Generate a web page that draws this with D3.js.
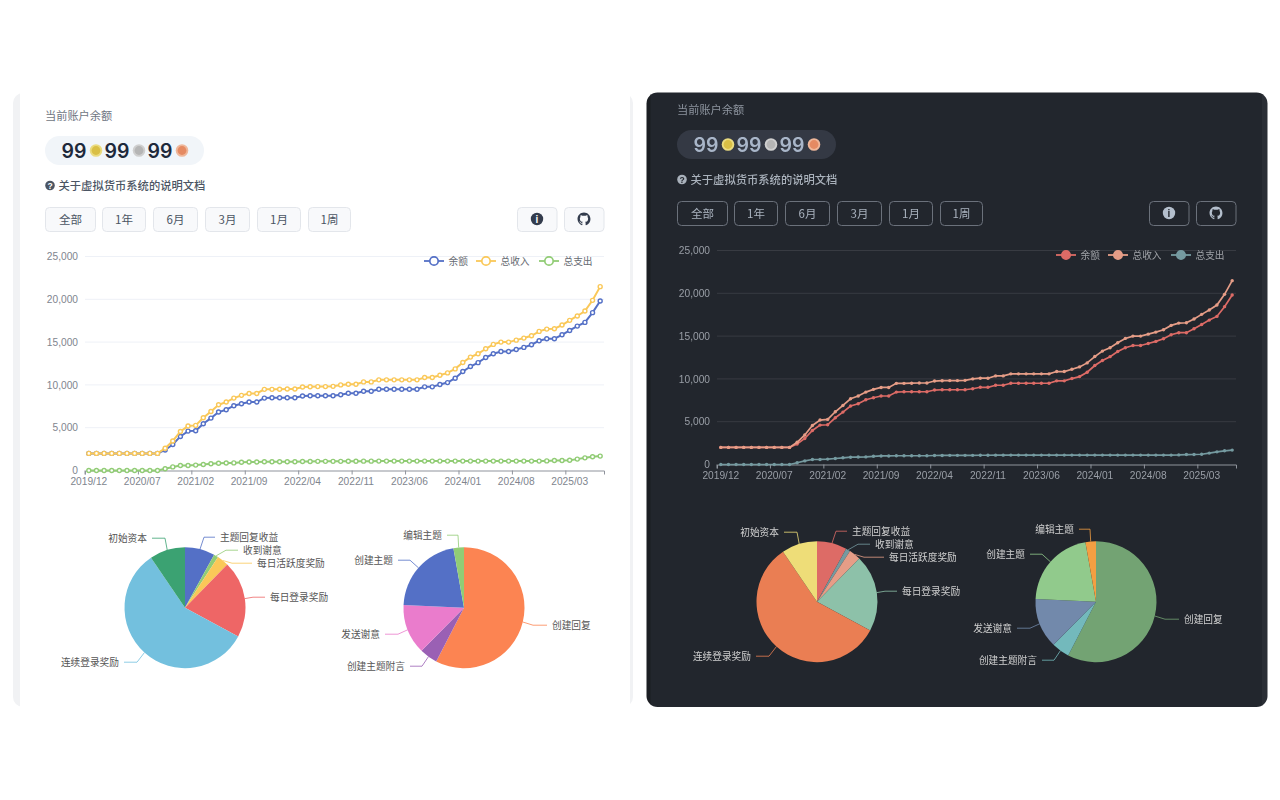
<!DOCTYPE html>
<html lang="zh">
<head>
<meta charset="utf-8">
<title>虚拟货币</title>
<script src="https://cdn.jsdelivr.net/npm/d3@7"></script>
<style>
html, body { margin: 0; padding: 0; background: #fff; }
/* the reference is a slightly soft screenshot */
svg { display: block; filter: blur(0.35px); }
text { font-family: "Noto Sans CJK SC", "Noto Sans", sans-serif; }
.num { font-family: "Liberation Sans", Arial, sans-serif; }
.amount { font-family: Inter, "Liberation Sans", sans-serif; }
</style>
</head>
<body>
<svg id="chart" width="1280" height="800"></svg>
<script>
const months = [
	"2019/12","2020/01","2020/02","2020/03","2020/04","2020/05","2020/06","2020/07","2020/08","2020/09",
	"2020/10","2020/11","2020/12","2021/01","2021/02","2021/03","2021/04","2021/05","2021/06","2021/07",
	"2021/08","2021/09","2021/10","2021/11","2021/12","2022/01","2022/02","2022/03","2022/04","2022/05",
	"2022/06","2022/07","2022/08","2022/09","2022/10","2022/11","2022/12","2023/01","2023/02","2023/03",
	"2023/04","2023/05","2023/06","2023/07","2023/08","2023/09","2023/10","2023/11","2023/12","2024/01",
	"2024/02","2024/03","2024/04","2024/05","2024/06","2024/07","2024/08","2024/09","2024/10","2024/11",
	"2024/12","2025/01","2025/02","2025/03","2025/04","2025/05","2025/06","2025/07"
];
const balance = [
	2000,2000,2000,2000,2000,2000,2000,2000,2000,2000,
	2400,3040,3980,4600,4640,5460,6120,6830,7100,7570,
	7800,8000,8000,8460,8500,8500,8500,8500,8700,8730,
	8730,8730,8730,8850,9020,9020,9260,9260,9490,9490,
	9490,9490,9490,9490,9770,9770,10040,10270,10780,11560,
	12150,12600,13200,13640,13900,13900,14140,14380,14690,15160,
	15400,15400,15850,16360,16870,17300,18440,19800
];
const income = [
	2000,2000,2000,2000,2000,2000,2000,2000,2000,2000,
	2600,3450,4560,5190,5270,6160,6900,7680,8000,8460,
	8780,9000,9000,9480,9480,9500,9520,9520,9750,9790,
	9800,9800,9830,10000,10080,10080,10350,10350,10590,10590,
	10590,10590,10590,10590,10860,10860,11130,11400,11870,12610,
	13250,13640,14220,14730,15000,15000,15230,15470,15740,16250,
	16520,16560,16990,17540,18050,18630,19880,21480
];
const expense = [
	0,0,0,0,0,0,0,0,0,0,
	200,420,585,590,630,700,780,850,870,890,
	960,1000,1000,1020,1020,1020,1020,1020,1050,1060,
	1070,1070,1070,1070,1080,1080,1090,1090,1100,1100,
	1100,1100,1100,1100,1100,1100,1100,1100,1100,1100,
	1100,1100,1100,1100,1100,1100,1100,1100,1100,1100,
	1120,1160,1170,1200,1330,1480,1600,1680
];
const seriesNames = ["余额", "总收入", "总支出"];
const yTicks = [0, 5000, 10000, 15000, 20000, 25000];

const incomeNames = ["主题回复收益", "收到谢意", "每日活跃度奖励", "每日登录奖励", "连续登录奖励", "初始资本"];
const incomeShares = [8.0, 1.2, 3.1, 20.6, 57.6, 9.5];
const spendNames = ["创建回复", "创建主题附言", "发送谢意", "创建主题", "编辑主题"];
const spendShares = [57.6, 4.8, 13.3, 21.5, 2.8];

const rangeLabels = ["全部", "1年", "6月", "3月", "1月", "1周"];
const rangeEdges = [[45, 96], [102, 146], [153, 198], [205, 250], [257, 301], [308, 351]];

// elbow of each pie label line, relative to the pie centre, and the length of its flat part
const incomeElbows = [[19, -71, 11], [41, -58, 12], [47, -45, 20], [68, -11, 12], [-48, 54, 13], [-20, -70, 13]];
const spendElbows = [[69, 17, 14], [-42, 58, 12], [-66, 26, 13], [-54, -48, 12], [-6, -73, 11]];

const lightTheme = {
	title: "#6f7682", doc: "#4b5563", pill: "#f1f5f9", amount: "#1e293b",
	btnFill: "#f8f9fb", btnLine: "#e3e6eb", btnText: "#4b5563", icon: "#333c4d",
	grid: "#eef1f7", axis: "#8f939c", axisText: "#80858e", legendText: "#666a72", pieText: "#555",
	lines: ["#5470c6", "#fac858", "#91cc75"], dot: "#fff", dotR: 2, dotW: 1.4, lineW: 2,
	legendDot: "#fff",
	incomeColors: ["#5470c6", "#91cc75", "#fac858", "#ee6666", "#73c0de", "#3ba272"],
	spendColors: ["#fc8452", "#9a60b4", "#ea7ccc", "#5470c6", "#91cc75"]
};
const darkTheme = {
	title: "#8d949e", doc: "#a9b1bb", pill: "#343944", amount: "#a9b6c9",
	btnFill: "none", btnLine: "#6b717b", btnText: "#aab3bf", icon: "#b4bfcd",
	grid: "#383b42", axis: "#8f949c", axisText: "#9a9fa7", legendText: "#a0a3a8", pieText: "#d0d0d0",
	lines: ["#dd6b66", "#e69d87", "#759aa0"], dot: null, dotR: 1.7, dotW: 0, lineW: 1.7,
	legendDot: null,
	incomeColors: ["#dd6b66", "#759aa0", "#e69d87", "#8dc1a9", "#ea7e53", "#eedd78"],
	spendColors: ["#73a373", "#73b9bc", "#7289ab", "#91ca8c", "#f49f42"]
};

const githubPath = "M8 0C3.58 0 0 3.58 0 8c0 3.54 2.29 6.53 5.47 7.59.4.07.55-.17.55-.38 0-.19-.01-.82-.01-1.49-2.01.37-2.53-.49-2.69-.94-.09-.23-.48-.94-.82-1.13-.28-.15-.68-.52-.01-.53.63-.01 1.08.58 1.23.82.72 1.21 1.87.87 2.33.66.07-.52.28-.87.51-1.07-1.78-.2-3.64-.89-3.64-3.95 0-.87.31-1.59.82-2.15-.08-.2-.36-1.02.08-2.12 0 0 .67-.21 2.2.82.64-.18 1.32-.27 2-.27s1.36.09 2 .27c1.53-1.04 2.2-.82 2.2-.82.44 1.1.16 1.92.08 2.12.51.56.82 1.27.82 2.15 0 3.07-1.87 3.75-3.65 3.95.29.25.54.73.54 1.48 0 1.07-.01 1.93-.01 2.2 0 .21.15.46.55.38A8.01 8.01 0 0 0 16 8c0-4.42-3.58-8-8-8z";

const svg = d3.select("#chart");

// card backgrounds
svg.append("clipPath").attr("id", "darkCard").append("rect")
	.attr("x", 646.5).attr("y", 92.5).attr("width", 621).attr("height", 614.5).attr("rx", 11);
const frame = svg.append("g");
frame.append("rect").attr("x", 13).attr("y", 93).attr("width", 620).attr("height", 614).attr("rx", 10).attr("fill", "#f1f2f4");
frame.append("rect").attr("x", 20).attr("y", 90).attr("width", 610).attr("height", 620).attr("fill", "#fff");
const dark = frame.append("g").attr("clip-path", "url(#darkCard)");
dark.append("rect").attr("x", 646).attr("y", 92).attr("width", 5).attr("height", 616).attr("fill", "#1b1e23");
dark.append("rect").attr("x", 650.5).attr("y", 92).attr("width", 612).attr("height", 616).attr("fill", "#22262d");
dark.append("rect").attr("x", 1262).attr("y", 92).attr("width", 6).attr("height", 616).attr("fill", "#2a2e35");

const x = d3.scaleBand().domain(months).range([85, 604]);
const y = d3.scaleLinear().domain([0, 25000]).range([470.5, 256.5]);

function drawHeader(g, t) {
	g.append("text").attr("x", 45).attr("y", 119.5).attr("font-size", 11.2).attr("fill", t.title).text("当前账户余额");

	g.append("rect").attr("x", 45).attr("y", 136).attr("width", 159).attr("height", 29).attr("rx", 14.5).attr("fill", t.pill);
	const coins = [["#d9bf45", "#eadb7f"], ["#b5b5b5", "#cfcfcf"], ["#e58a62", "#efb79a"]];
	coins.forEach((c, i) => {
		g.append("text").attr("class", "amount").attr("x", 61.5 + i * 43).attr("y", 158).attr("font-size", 19.5)
			.attr("font-weight", 600).attr("fill", t.amount).text("99");
		g.append("circle").attr("cx", 96 + i * 43).attr("cy", 150.5).attr("r", 6.3).attr("fill", c[1]);
		g.append("circle").attr("cx", 96 + i * 43).attr("cy", 150.5).attr("r", 4.4).attr("fill", c[0]);
	});

	g.append("circle").attr("cx", 50).attr("cy", 185.5).attr("r", 4.8).attr("fill", t.doc);
	g.append("text").attr("class", "num").attr("x", 50).attr("y", 188.7).attr("text-anchor", "middle").attr("font-size", 8.5)
		.attr("font-weight", 700).attr("fill", t.dot || "#22262d").text("?");
	g.append("text").attr("x", 58.5).attr("y", 189.7).attr("font-size", 11.3).attr("font-weight", 500).attr("fill", t.doc).text("关于虚拟货币系统的说明文档");

	const btn = g.append("g").selectAll("g").data(rangeLabels).join("g");
	btn.append("rect").attr("x", (d, i) => rangeEdges[i][0] + 0.5).attr("y", 207.5)
		.attr("width", (d, i) => rangeEdges[i][1] - rangeEdges[i][0] - 1).attr("height", 24).attr("rx", 4)
		.attr("fill", t.btnFill).attr("stroke", t.btnLine);
	btn.append("text").attr("x", (d, i) => (rangeEdges[i][0] + rangeEdges[i][1]) / 2).attr("y", 223.5)
		.attr("text-anchor", "middle").attr("font-size", 11.5).attr("fill", t.btnText).text(d => d);

	[517, 564].forEach((bx, i) => {
		g.append("rect").attr("x", bx + 0.5).attr("y", 207.5).attr("width", 39.5).attr("height", 24).attr("rx", 4)
			.attr("fill", t.btnFill).attr("stroke", t.btnLine);
		if (i === 0) {
			g.append("circle").attr("cx", bx + 20).attr("cy", 219).attr("r", 6.2).attr("fill", t.icon);
			g.append("text").attr("class", "num").attr("x", bx + 20).attr("y", 222.8).attr("text-anchor", "middle")
				.attr("font-size", 10).attr("font-weight", 700).attr("fill", t.dot || "#22262d").text("i");
		} else {
			g.append("path").attr("d", githubPath).attr("transform", `translate(${bx + 13.5},${212.5}) scale(0.81)`).attr("fill", t.icon);
		}
	});
}

function drawLines(g, t) {
	g.append("g").selectAll("line").data(yTicks.slice(1)).join("line")
		.attr("x1", x.range()[0]).attr("x2", x.range()[1]).attr("y1", d => y(d)).attr("y2", d => y(d))
		.attr("stroke", t.grid);

	const ax = g.append("g").attr("transform", `translate(0,${y(0)})`)
		.call(d3.axisBottom(x).tickValues(months.filter((d, i) => i % 7 === 0)).tickSizeOuter(0).tickSize(4).tickPadding(3));
	ax.select(".domain").attr("stroke", t.axis);
	ax.selectAll("line").attr("stroke", t.axis).attr("x1", -x.bandwidth() / 2).attr("x2", -x.bandwidth() / 2);
	ax.selectAll("text").attr("class", "num").attr("font-size", 10.2).attr("fill", t.axisText).attr("font-family", null);

	const ay = g.append("g").attr("transform", `translate(${x.range()[0]},0)`)
		.call(d3.axisLeft(y).tickValues(yTicks).tickFormat(d3.format(",")).tickSize(0).tickPadding(7));
	ay.select(".domain").remove();
	ay.selectAll("text").attr("class", "num").attr("font-size", 10.2).attr("fill", t.axisText).attr("font-family", null);

	const line = d3.line().x((d, i) => x(months[i]) + x.bandwidth() / 2).y(d => y(d));
	// drawn so that the later series sit on top, same as the picture
	[balance, income, expense].forEach((values, s) => {
		const color = t.lines[s];
		g.append("path").attr("d", line(values)).attr("fill", "none").attr("stroke", color).attr("stroke-width", t.lineW);
		g.append("g").selectAll("circle").data(values).join("circle")
			.attr("cx", (d, i) => x(months[i]) + x.bandwidth() / 2).attr("cy", d => y(d)).attr("r", t.dotR)
			.attr("fill", t.dot || color).attr("stroke", color).attr("stroke-width", t.dotW);
	});

	const legendStart = [424, 476, 539];
	seriesNames.forEach((name, i) => {
		const lx = legendStart[i], ly = 261, color = t.lines[i];
		g.append("line").attr("x1", lx).attr("x2", lx + 20).attr("y1", ly).attr("y2", ly).attr("stroke", color).attr("stroke-width", 1.8);
		g.append("circle").attr("cx", lx + 10).attr("cy", ly).attr("r", 4.2).attr("fill", t.legendDot || color).attr("stroke", color).attr("stroke-width", 1.7);
		g.append("text").attr("x", lx + 24.5).attr("y", ly + 4.2).attr("font-size", 9.7).attr("fill", t.legendText).text(name);
	});
}

function drawPie(g, t, cx, names, shares, colors, elbows) {
	const radius = 60.5, cy = 607.7;
	const pie = d3.pie().sort(null).value(d => d);
	const arc = d3.arc().innerRadius(0).outerRadius(radius);
	const arcs = pie(shares);
	const p = g.append("g").attr("transform", `translate(${cx},${cy})`);

	p.selectAll("path.slice").data(arcs).join("path").attr("class", "slice")
		.attr("d", arc).attr("fill", (d, i) => colors[i]);

	arcs.forEach((d, i) => {
		const mid = (d.startAngle + d.endAngle) / 2;
		const rim = [Math.sin(mid) * radius, -Math.cos(mid) * radius];
		const [ex, ey, flat] = elbows[i];
		const side = ex >= 0 ? 1 : -1;
		p.append("path").attr("d", d3.line()([rim, [ex, ey + 0.5], [ex + side * flat, ey + 0.5]]))
			.attr("fill", "none").attr("stroke", colors[i]).attr("stroke-width", 1).attr("opacity", 0.8);
		p.append("text").attr("x", ex + side * (flat + 5)).attr("y", ey + 4.6)
			.attr("text-anchor", side > 0 ? "start" : "end").attr("font-size", 9.7).attr("fill", t.pieText).text(names[i]);
	});
}

function drawPanel(dx, dy, t) {
	const g = svg.append("g").attr("transform", `translate(${dx},${dy})`);
	drawHeader(g, t);
	drawLines(g, t);
	drawPie(g, t, 185, incomeNames, incomeShares, t.incomeColors, incomeElbows);
	drawPie(g, t, 464, spendNames, spendShares, t.spendColors, spendElbows);
}

drawPanel(0, 0, lightTheme);
drawPanel(632, -6, darkTheme);
</script>
</body>
</html>
